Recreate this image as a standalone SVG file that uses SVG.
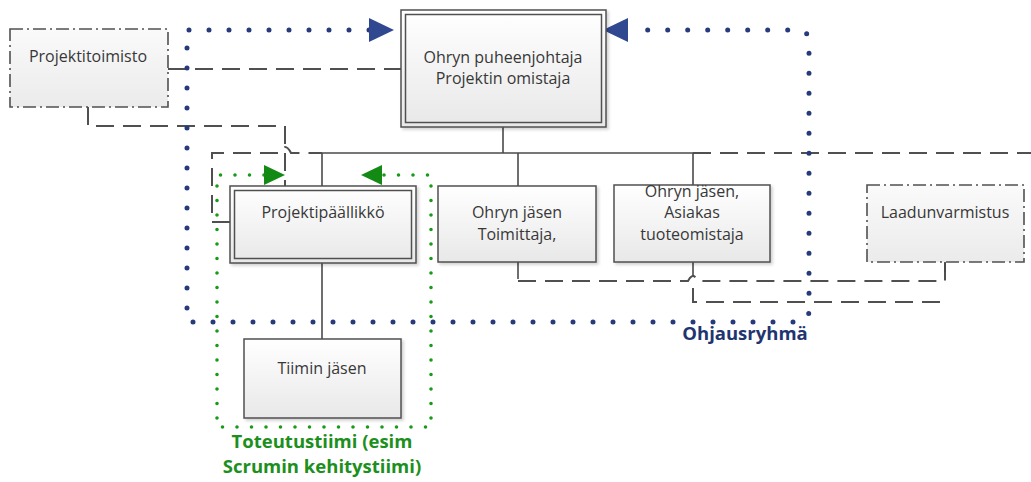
<svg xmlns="http://www.w3.org/2000/svg" width="1031" height="482" viewBox="0 0 1031 482">
  <defs>
    <linearGradient id="boxFill" x1="0" y1="0" x2="0" y2="1">
      <stop offset="0" stop-color="#ffffff"/>
      <stop offset="1" stop-color="#e8e8e8"/>
    </linearGradient>
    <linearGradient id="softFill" x1="0" y1="0" x2="0" y2="1">
      <stop offset="0" stop-color="#fafafa"/>
      <stop offset="1" stop-color="#ebebeb"/>
    </linearGradient>
    <filter id="shadow" x="-10%" y="-10%" width="125%" height="130%">
      <feDropShadow dx="2" dy="2" stdDeviation="1.5" flood-color="#000" flood-opacity="0.18"/>
    </filter>
    <marker id="blueArrow" viewBox="0 0 25 24" markerUnits="userSpaceOnUse" markerWidth="25" markerHeight="24" refX="0" refY="12" orient="auto-start-reverse">
      <path d="M0,0 L25,12 L0,24 Z" fill="#2f4890"/>
    </marker>
    <marker id="greenArrow" viewBox="0 0 21 20" markerUnits="userSpaceOnUse" markerWidth="21" markerHeight="20" refX="0" refY="10" orient="auto-start-reverse">
      <path d="M0,0 L21,10 L0,20 Z" fill="#138a13"/>
    </marker>
    <style>
      .box { fill: url(#boxFill); stroke: #505050; stroke-width: 1.5; filter: url(#shadow); }
      .inner { fill: none; stroke: #505050; stroke-width: 1.5; }
      .soft { fill: url(#softFill); stroke: #505050; stroke-width: 1.6; stroke-dasharray: 13 4 2 4; }
      .label { font-family: "Open Sans", "Liberation Sans", sans-serif; font-size: 16px; fill: #383838; text-anchor: middle; }
      .solid { fill: none; stroke: #4a4a4a; stroke-width: 1.6; }
      .dash { fill: none; stroke: #505050; stroke-width: 2; stroke-dasharray: 18 9; }
      .blueDots { fill: none; stroke: #263a7c; stroke-width: 5; stroke-linecap: round; stroke-dasharray: 0 20; }
      .greenDots { fill: none; stroke: #1a9a1a; stroke-width: 3.6; stroke-linecap: round; stroke-dasharray: 0 14.5; }
      .groupName { font-family: "Open Sans", "Liberation Sans", sans-serif; font-weight: bold; font-size: 18.5px; text-anchor: middle; }
    </style>
  </defs>

  <rect width="1031" height="482" fill="#ffffff"/>

  <!-- connectors -->
  <g id="connectors">
    <!-- Projektitoimisto to chair -->
    <path class="dash" d="M168,69 H401"/>
    <!-- Projektitoimisto to project manager, jumping over the bus -->
    <path class="dash" d="M88,107 V126 H285 V186"/>
    <!-- project manager side link and bus extension -->
    <path class="dash" d="M230,222 H212 V153 H279 Q285,141 291,153 H322"/>
    <path class="dash" d="M693,153 H1031"/>
    <!-- org chart lines -->
    <path class="solid" d="M503,127 V153"/>
    <path class="solid" d="M322,153 H693"/>
    <path class="solid" d="M322,153 V186"/>
    <path class="solid" d="M518,153 V186"/>
    <path class="solid" d="M693,153 V185"/>
    <path class="solid" d="M322,263 V339"/>
    <!-- members to quality assurance -->
    <path class="solid" d="M518,262 V279"/>
    <path class="dash" d="M518,281 H688 Q693,271 698,281 H945 V262"/>
    <path class="solid" d="M693,262 V276"/>
    <path class="dash" d="M693,288 V302 H945"/>
    <path class="solid" d="M945,262 V272"/>
    <!-- steering group boundary -->
    <path class="blueDots" marker-start="url(#blueArrow)" marker-end="url(#blueArrow)" d="M369,30 H187 V322 H797 Q809,322 809,310 V42 Q809,30 797,30 H628"/>
    <!-- delivery team boundary -->
    <path class="greenDots" marker-start="url(#greenArrow)" marker-end="url(#greenArrow)" d="M264,175 H217 V427 H431 V175 H382"/>
  </g>

  <g id="projektitoimisto">
    <rect class="soft" x="10" y="29" width="158" height="78"/>
    <text class="label" x="88" y="62">Projektitoimisto</text>
  </g>

  <g id="puheenjohtaja">
    <rect class="box" x="401" y="10" width="205" height="117"/>
    <rect class="inner" x="405.5" y="14.5" width="196" height="108"/>
    <text class="label" x="503" y="63">Ohryn puheenjohtaja</text>
    <text class="label" x="503" y="84">Projektin omistaja</text>
  </g>

  <g id="projektipaallikko">
    <rect class="box" x="230" y="186" width="186" height="77"/>
    <rect class="inner" x="234.5" y="190.5" width="177" height="68"/>
    <text class="label" x="323" y="218">Projektipäällikkö</text>
  </g>

  <g id="toimittaja">
    <rect class="box" x="438" y="186" width="158" height="76"/>
    <text class="label" x="517" y="218">Ohryn jäsen</text>
    <text class="label" x="517" y="240">Toimittaja,</text>
  </g>

  <g id="asiakas">
    <rect class="box" x="614" y="185" width="156" height="77"/>
    <text class="label" x="692" y="197">Ohryn jäsen,</text>
    <text class="label" x="692" y="218">Asiakas</text>
    <text class="label" x="692" y="240">tuoteomistaja</text>
  </g>

  <g id="laadunvarmistus">
    <rect class="soft" x="867" y="185" width="157" height="77"/>
    <text class="label" x="945" y="218">Laadunvarmistus</text>
  </g>

  <g id="tiimin-jasen">
    <rect class="box" x="244" y="339" width="157" height="79"/>
    <text class="label" x="322" y="374">Tiimin jäsen</text>
  </g>

  <g id="ohjausryhma-label">
    <text class="groupName" x="745" y="340" fill="#1f3570">Ohjausryhmä</text>
  </g>

  <g id="toteutustiimi-label">
    <text class="groupName" x="322" y="448" fill="#1c8f1c">Toteutustiimi (esim</text>
    <text class="groupName" x="322" y="473" fill="#1c8f1c">Scrumin kehitystiimi)</text>
  </g>
</svg>
